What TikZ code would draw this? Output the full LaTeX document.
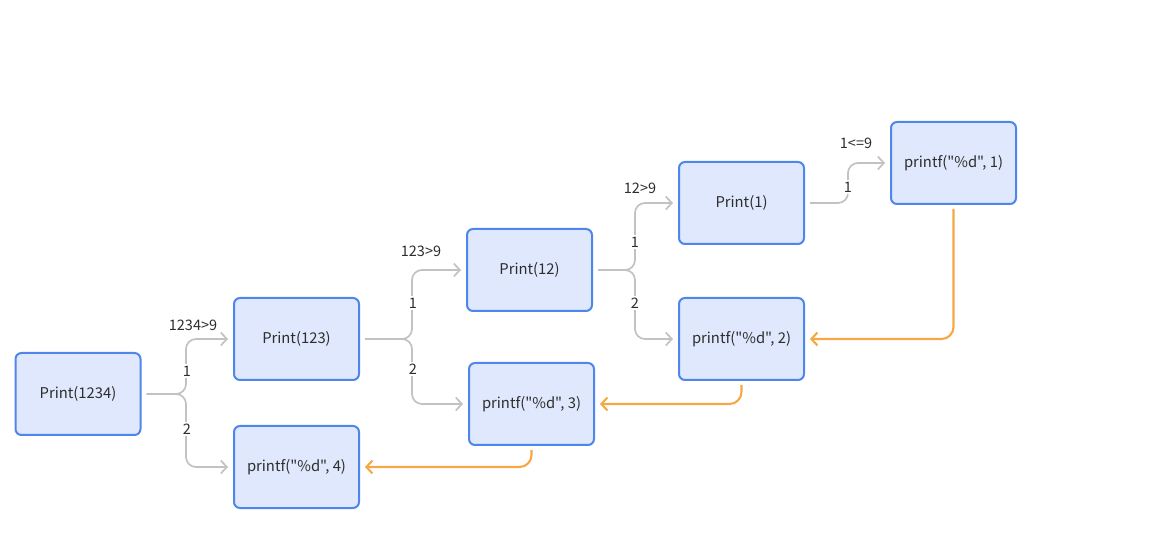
\documentclass[tikz,border=0pt]{standalone}
\usepackage{fontspec}
\setmainfont{Noto Sans CJK SC}[Ligatures=TeXOff]
\usetikzlibrary{arrows.meta}
\definecolor{boxfill}{HTML}{DFE8FC}
\definecolor{boxline}{HTML}{4F86EC}
\definecolor{conngray}{HTML}{C2C2C2}
\definecolor{connorange}{HTML}{F5A843}
\definecolor{txt}{HTML}{2E2E2E}
\tikzset{
  box/.style={draw=boxline, line width=2pt, fill=boxfill, rounded corners=6pt,
    minimum width=125pt, minimum height=82pt, inner sep=0pt, text=txt,
    font=\fontsize{14.8}{16}\selectfont},
  conn/.style={draw=conngray, line width=1.7pt, rounded corners=10pt,
    -{Straight Barb[length=6pt,width=13pt,line width=1.7pt]}},
  back/.style={draw=connorange, line width=2.1pt, rounded corners=12pt,
    -{Straight Barb[length=6pt,width=13pt,line width=2.1pt]}},
  lbl/.style={fill=white, inner sep=1.5pt, text=txt, font=\fontsize{14.5}{15}\selectfont},
  cond/.style={inner sep=0pt, text=txt, font=\fontsize{14.5}{15}\selectfont}
}
\begin{document}
\begin{tikzpicture}[x=1pt,y=-1pt]
\useasboundingbox (0,0) rectangle (1171,545);
% boxes
\node[box] (A) at (78,394) {Print(1234)};
\node[box] (B) at (296.5,339) {Print(123)};
\node[box] (C) at (296.5,467) {printf("\%d", 4)};
\node[box] (D) at (529.5,270) {Print(12)};
\node[box] (E) at (531.5,404) {printf("\%d", 3)};
\node[box] (F) at (741.5,203) {Print(1)};
\node[box] (G) at (741.5,339) {printf("\%d", 2)};
\node[box] (H) at (953.5,163) {printf("\%d", 1)};
% branches from A
\draw[conn] ([xshift=5pt]A.east) -- (186,394) |- ([xshift=-5pt]B.west);
\draw[conn] ([xshift=5pt]A.east) -- (186,394) |- ([xshift=-5pt]C.west);
\node[lbl] (a1) at (187,371) {1};
\node[lbl] (a2) at (187,429) {2};
\node[cond] (ac) at (193,325) {1234>9};
% branches from B
\draw[conn] ([xshift=5pt]B.east) -- (412,339) |- ([xshift=-5pt]D.west);
\draw[conn] ([xshift=5pt]B.east) -- (412,339) |- ([xshift=-5pt]E.west);
\node[lbl] (b1) at (413,303) {1};
\node[lbl] (b2) at (413,369) {2};
\node[cond] (bc) at (421,251) {123>9};
% branches from D
\draw[conn] ([xshift=5pt]D.east) -- (635,270) |- ([xshift=-5pt]F.west);
\draw[conn] ([xshift=5pt]D.east) -- (635,270) |- ([xshift=-5pt]G.west);
\node[lbl] (d1) at (635,242) {1};
\node[lbl] (d2) at (635,303) {2};
\node[cond] (dc) at (640,188) {12>9};
% branch from F
\draw[conn] ([xshift=5pt]F.east) -- (848,203) |- ([xshift=-5pt]H.west);
\node[lbl] (f1) at (848,187) {1};
\node[cond] (fc) at (856,143) {1<=9};
% returns
\draw[back] ([yshift=-4pt]H.south) |- ([xshift=5pt]G.east);
\draw[back] ([yshift=-4pt]G.south) |- ([xshift=5pt]E.east);
\draw[back] ([yshift=-4pt]E.south) |- ([xshift=5pt]C.east);
\end{tikzpicture}
\end{document}
